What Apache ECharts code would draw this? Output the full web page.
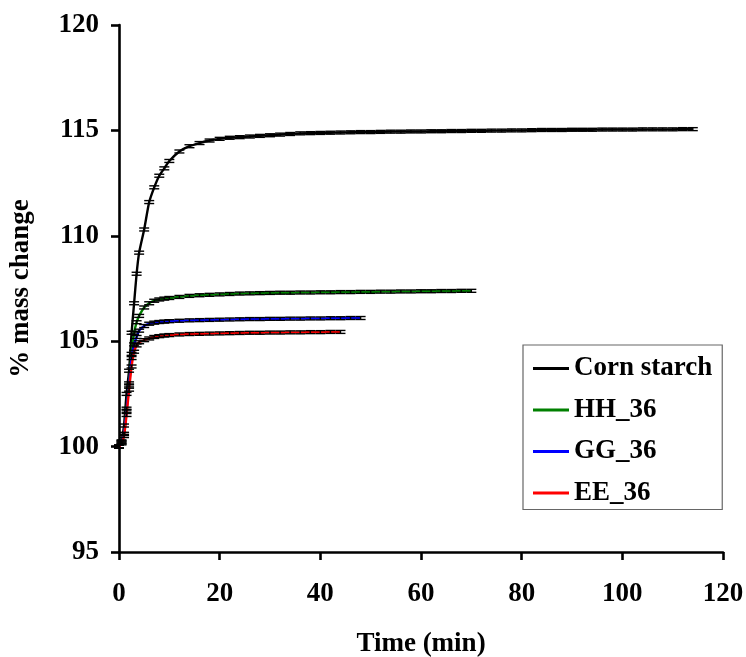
<!DOCTYPE html>
<html>
<head>
<meta charset="utf-8">
<script src="https://cdn.jsdelivr.net/npm/echarts@6/dist/echarts.min.js"></script>
<style>
  html, body { margin: 0; padding: 0; background: #fff; }
  #chart { width: 746px; height: 657px; }
</style>
</head>
<body>
<div id="chart"></div>
<script>
// Sampling times (min) shared by all four uptake curves
const minutes = [0, 0.5, 1, 1.5, 2, 2.5, 3, 3.5, 4, 5, 6, 7, 8, 9, 10,
  12, 14, 16, 18, 20, 22, 24, 26, 28, 30, 32, 34, 36, 38, 40, 42, 44, 46, 48, 50,
  52, 54, 56, 58, 60, 62, 64, 66, 68, 70, 72, 74, 76, 78, 80, 82, 84, 86, 88, 90,
  92, 94, 96, 98, 100, 102, 104, 106, 108, 110, 112, 114];

// % mass change for each sample
const cornStarch = [100.0, 100.25, 101.0, 102.5, 103.6, 105.4, 106.8, 108.2, 109.2, 110.3, 111.6, 112.3, 112.85, 113.2, 113.55,
  114.0, 114.25, 114.4, 114.52, 114.6, 114.65, 114.68, 114.71, 114.74, 114.77, 114.8, 114.83, 114.86, 114.87, 114.88,
  114.89, 114.9, 114.91, 114.92, 114.92, 114.93, 114.94, 114.94, 114.95, 114.95, 114.96, 114.96, 114.97, 114.97, 114.98,
  114.98, 114.99, 114.99, 115.0, 115.0, 115.01, 115.02, 115.02, 115.02, 115.03, 115.03, 115.03, 115.04, 115.04, 115.04,
  115.04, 115.05, 115.05, 115.05, 115.05, 115.06, 115.06];
const hh36 = [100.0, 100.2, 100.6, 101.8, 103.0, 104.4, 105.4, 105.9, 106.2, 106.6, 106.8, 106.92, 106.98, 107.02, 107.05,
  107.1, 107.15, 107.18, 107.2, 107.22, 107.24, 107.26, 107.27, 107.28, 107.29, 107.3, 107.3, 107.31, 107.31, 107.32,
  107.32, 107.33, 107.33, 107.34, 107.34, 107.35, 107.35, 107.36, 107.36, 107.37, 107.37, 107.38, 107.38, 107.39, 107.39];
const gg36 = [100.0, 100.2, 100.6, 101.7, 102.9, 104.2, 104.85, 105.2, 105.5, 105.72, 105.83, 105.88, 105.91, 105.93, 105.95,
  105.97, 105.99, 106.0, 106.01, 106.02, 106.03, 106.04, 106.05, 106.05, 106.06, 106.06, 106.07, 106.07, 106.08, 106.08,
  106.09, 106.09, 106.1, 106.1];
const ee36 = [100.0, 100.15, 100.5, 101.5, 102.7, 103.8, 104.5, 104.8, 104.95, 105.05, 105.13, 105.2, 105.24, 105.27, 105.29,
  105.32, 105.34, 105.35, 105.36, 105.37, 105.38, 105.39, 105.4, 105.4, 105.41, 105.41, 105.42, 105.42, 105.43, 105.43,
  105.44, 105.44];

// Standard deviation of the replicate measurements
const sdCornStarch = 0.07;
const sdHH36 = 0.07;
const sdGG36 = 0.07;
const sdEE36 = 0.07;

const seriesNames = ['Corn starch', 'HH_36', 'GG_36', 'EE_36'];
const seriesColors = ['#000000', '#008000', '#0000ff', '#ff0000'];
const seriesValues = [cornStarch, hh36, gg36, ee36];
const seriesSd = [sdCornStarch, sdHH36, sdGG36, sdEE36];

const xTicks = { min: 0, max: 120, interval: 20 };
const yTicks = { min: 95, max: 120, interval: 5 };

const FONT = '"Liberation Serif", "Times New Roman", serif';

function pairs(values) {
  return values.map((v, i) => [minutes[i], v]);
}

function errorData(values, sd) {
  return values.map((v, i) => [minutes[i], v - sd, v + sd]);
}

function renderErrorBar(params, api) {
  const x = api.value(0);
  const lo = api.coord([x, api.value(1)]);
  const hi = api.coord([x, api.value(2)]);
  const half = 5;
  const style = { stroke: '#000', lineWidth: 1.4 };
  return {
    type: 'group',
    children: [
      { type: 'line', shape: { x1: lo[0], y1: lo[1], x2: hi[0], y2: hi[1] }, style },
      { type: 'line', shape: { x1: lo[0] - half, y1: lo[1], x2: lo[0] + half, y2: lo[1] }, style },
      { type: 'line', shape: { x1: hi[0] - half, y1: hi[1], x2: hi[0] + half, y2: hi[1] }, style }
    ]
  };
}

const lineSeries = seriesNames.map((name, k) => ({
  name,
  type: 'line',
  data: pairs(seriesValues[k]),
  showSymbol: false,
  smooth: 0.2,
  lineStyle: { color: seriesColors[k], width: 2.4 },
  itemStyle: { color: seriesColors[k] },
  z: 2 + k
}));

const barSeries = seriesNames.map((name, k) => ({
  name: name + ' sd',
  type: 'custom',
  renderItem: renderErrorBar,
  data: errorData(seriesValues[k], seriesSd[k]),
  encode: { x: 0, y: [1, 2] },
  silent: true,
  z: 10
}));

const chart = echarts.init(document.getElementById('chart'), null, { renderer: 'canvas' });
chart.setOption({
  animation: false,
  backgroundColor: '#fff',
  textStyle: { fontFamily: FONT },
  grid: { left: 119, right: 23, top: 25, bottom: 105, containLabel: false, outerBoundsMode: 'none' },
  xAxis: {
    type: 'value',
    min: xTicks.min, max: xTicks.max, interval: xTicks.interval,
    name: 'Time (min)',
    nameLocation: 'middle',
    nameGap: 79,
    nameTextStyle: { fontFamily: FONT, fontWeight: 'bold', fontSize: 27, color: '#000' },
    axisLine: { show: true, lineStyle: { color: '#000', width: 2.6 } },
    axisTick: { show: true, inside: false, length: 8, lineStyle: { color: '#000', width: 2.6 } },
    axisLabel: { margin: 29, fontFamily: FONT, fontWeight: 'bold', fontSize: 27, color: '#000' },
    splitLine: { show: false }
  },
  yAxis: {
    type: 'value',
    min: yTicks.min, max: yTicks.max, interval: yTicks.interval,
    name: '% mass change',
    nameLocation: 'middle',
    nameGap: 84,
    nameTextStyle: { fontFamily: FONT, fontWeight: 'bold', fontSize: 27, color: '#000' },
    axisLine: { show: true, lineStyle: { color: '#000', width: 2.6 } },
    axisTick: { show: true, inside: false, length: 8, lineStyle: { color: '#000', width: 2.6 } },
    axisLabel: { margin: 20, fontFamily: FONT, fontWeight: 'bold', fontSize: 27, color: '#000' },
    splitLine: { show: false }
  },
  legend: {
    data: seriesNames,
    orient: 'vertical',
    left: 523,
    top: 345,
    padding: [10, 10, 3, 10],
    itemGap: 14.5,
    itemWidth: 36,
    itemHeight: 3,
    icon: 'rect',
    borderColor: '#666',
    borderWidth: 1.2,
    backgroundColor: '#fff',
    textStyle: { fontFamily: FONT, fontWeight: 'bold', fontSize: 27, color: '#000', lineHeight: 27 }
  },
  series: lineSeries.concat(barSeries)
});
</script>
</body>
</html>
